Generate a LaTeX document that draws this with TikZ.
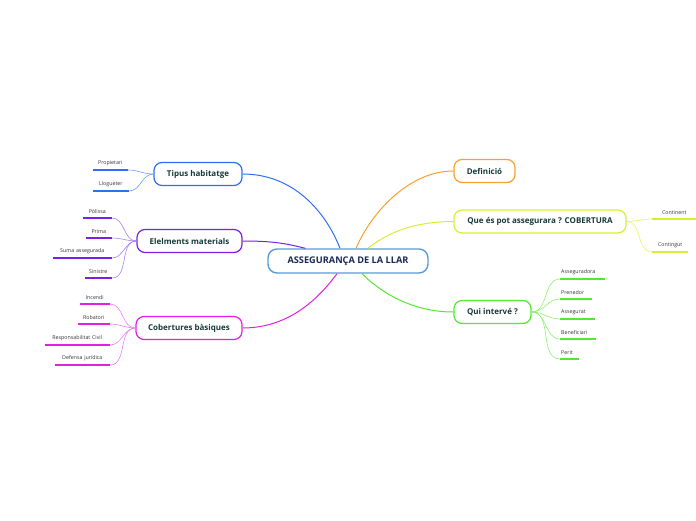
\documentclass[tikz,border=0pt]{standalone}
\usepackage{fontspec}
\setmainfont{Open Sans}
\usetikzlibrary{calc}
\definecolor{cblue}{HTML}{2E6FF2}
\definecolor{cpurple}{HTML}{7A1FE6}
\definecolor{cmag}{HTML}{E21FE2}
\definecolor{corange}{HTML}{F8A030}
\definecolor{cyel}{HTML}{D6F030}
\definecolor{cgreen}{HTML}{52E830}
\definecolor{ctext}{HTML}{163A3A}
\definecolor{cnavy}{HTML}{1A2A55}
\definecolor{ccent}{HTML}{5B9BD5}
\definecolor{lpurple}{HTML}{A880F2}
\definecolor{lmag}{HTML}{F07CF0}
\definecolor{lblue}{HTML}{6E9CF6}
\definecolor{lyel}{HTML}{E0F468}
\definecolor{lgreen}{HTML}{8EF070}
\begin{document}
\begin{tikzpicture}[x=1pt,y=-1pt,
  branch/.style={draw, line width=1.2pt, rounded corners=8pt, fill=white, minimum height=23pt,
     font=\fontsize{8}{9.5}\selectfont\bfseries, text=ctext, inner sep=0pt},
  central/.style={draw=ccent, line width=1.4pt, rounded corners=9pt, fill=white, minimum height=24pt,
     minimum width=160pt, font=\fontsize{9.2}{11}\selectfont\bfseries, text=cnavy, inner sep=0pt},
  leafl/.style={anchor=south east, font=\fontsize{5.3}{6.3}\selectfont, text=black!80, inner xsep=1pt, inner ysep=4pt, align=center},
  leafr/.style={anchor=south west, font=\fontsize{5.3}{6.3}\selectfont, text=black!80, inner xsep=1pt, inner ysep=4pt, align=left},
  uline/.style={line width=1.8pt},
  conn/.style={line width=1pt},
  sub/.style={line width=0.6pt}
]
\useasboundingbox (0,0) rectangle (696,520);

% central and branch nodes
\node[central] (c) at (348,261) {ASSEGURANÇA DE LA LLAR};
\node[branch, draw=cblue, minimum width=88pt] (tip) at (198,174) {Tipus habitatge};
\node[branch, draw=cpurple, minimum width=105pt] (ele) at (189.5,241) {Elelments materials};
\node[branch, draw=cmag, minimum width=106pt] (cob) at (189,328) {Cobertures bàsiques};
\node[branch, draw=corange, minimum width=61pt] (def) at (484.5,171) {Definició};
\node[branch, draw=cyel, minimum width=172pt] (que) at (540,221.5) {Que és pot assegurara ? COBERTURA};
\node[branch, draw=cgreen, minimum width=77pt] (qui) at (492.5,312) {Qui intervé ?};

% main connectors
\draw[conn, cblue] (tip.east) .. controls +(50,0) and +(-15,-38) .. ($(c.north)+(-8,0)$);
\draw[conn, cpurple] (ele.east) .. controls +(30,0) and +(-20,-5) .. ($(c.north west)+(38,0)$);
\draw[conn, cmag] (cob.east) .. controls +(50,0) and +(-15,20) .. ($(c.south)+(-11,0)$);
\draw[conn, corange] (def.west) .. controls +(-45,0) and +(15,-35) .. ($(c.north)+(8,0)$);
\draw[conn, cyel] (que.west) .. controls +(-45,0) and +(15,-12) .. ($(c.north)+(20,0)$);
\draw[conn, cgreen] (qui.west) .. controls +(-45,0) and +(15,15) .. ($(c.south)+(14,0)$);

% Tipus habitatge leaves
\node[leafl, text width=33pt] (l1) at (128,170) {Propietari};
\node[leafl, text width=34pt] (l2) at (129,191) {Llogueter};
\foreach \n in {l1,l2} {
  \draw[uline, cblue] (\n.south west) -- (\n.south east);
  \draw[sub, lblue] (tip.west) to[out=180,in=0] (\n.south east);
}

% Elements leaves
\node[leafl, text width=27pt] (e1) at (112,218) {Pòlissa};
\node[leafl, text width=24pt] (e2) at (112,238) {Prima};
\node[leafl, text width=57pt] (e3) at (112,258) {Suma assegurada};
\node[leafl, text width=25pt] (e4) at (112,278) {Sinistre};
\foreach \n in {e1,e2,e3,e4} {
  \draw[uline, cpurple] (\n.south west) -- (\n.south east);
  \draw[sub, lpurple] (ele.west) to[out=180,in=0] (\n.south east);
}

% Cobertures leaves
\node[leafl, text width=28pt] (b1) at (110,304) {Incendi};
\node[leafl, text width=30pt] (b2) at (110,324) {Robatori};
\node[leafl, text width=63pt] (b3) at (110,345) {Responsabilitat Civil};
\node[leafl, text width=53pt] (b4) at (110,365) {Defensa jurídica};
\foreach \n in {b1,b2,b3,b4} {
  \draw[uline, cmag] (\n.south west) -- (\n.south east);
  \draw[sub, lmag] (cob.west) to[out=180,in=0] (\n.south east);
}

% COBERTURA leaves
\node[leafr, text width=42pt, align=center] (q1) at (652,219) {Continent};
\node[leafr, text width=34pt, align=center] (q2) at (652,252) {Contingut};
\foreach \n in {q1,q2} {
  \draw[uline, cyel] (\n.south west) -- (\n.south east);
  \draw[sub, lyel] (que.east) to[out=0,in=180] (\n.south west);
}

% Qui intervé leaves
\node[leafr, text width=43pt] (g1) at (560,279) {Asseguradora};
\node[leafr, text width=30pt] (g2) at (560,299) {Prenedor};
\node[leafr, text width=33pt] (g3) at (560,319) {Assegurat};
\node[leafr, text width=34pt] (g4) at (560,339) {Beneficiari};
\node[leafr, text width=17pt] (g5) at (560,359) {Perit};
\foreach \n in {g1,g2,g3,g4,g5} {
  \draw[uline, cgreen] (\n.south west) -- (\n.south east);
  \draw[sub, lgreen] (qui.east) to[out=0,in=180] (\n.south west);
}
\end{tikzpicture}
\end{document}
